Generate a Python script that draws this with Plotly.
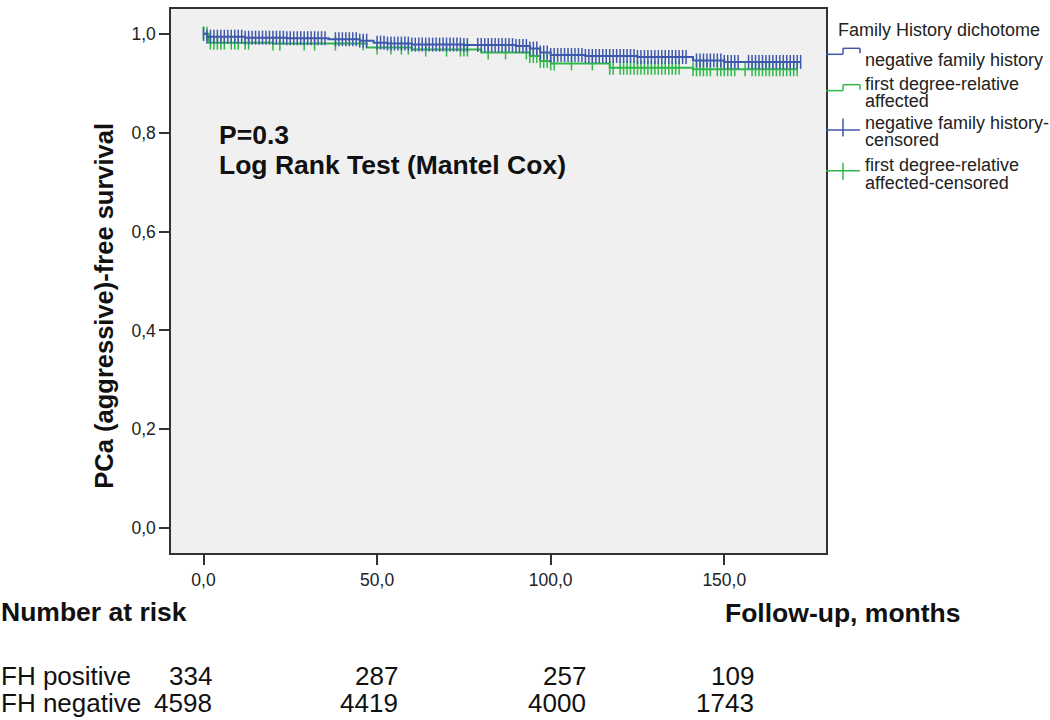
import plotly.graph_objects as go

# ---------------- data ----------------
x_tickvals = [0, 50, 100, 150]
x_ticktext = ["0,0", "50,0", "100,0", "150,0"]
y_tickvals = [0.0, 0.2, 0.4, 0.6, 0.8, 1.0]
y_ticktext = ["0,0", "0,2", "0,4", "0,6", "0,8", "1,0"]

# negative family history (blue) – Kaplan-Meier step points
neg_times = [0, 1, 12, 24, 36, 45, 49, 53, 60, 75, 90, 94, 97, 100, 110, 125, 141, 150]
neg_surv = [1.0, 0.994, 0.992, 0.991, 0.989, 0.986, 0.982, 0.980, 0.978, 0.977,
            0.975, 0.970, 0.962, 0.957, 0.955, 0.953, 0.946, 0.943]
neg_end = 172

# first degree-relative affected (green)
pos_times = [0, 1.5, 20, 47, 60, 80, 94, 97, 100, 117, 141]
pos_surv = [1.0, 0.982, 0.980, 0.972, 0.968, 0.962, 0.955, 0.945, 0.940, 0.931, 0.928]
pos_end = 171

neg_censor = [0, 1, 2, 3, 4, 5, 6, 7, 8, 9, 10, 11, 12, 13, 14, 15, 16, 17, 18, 19, 20,
              21, 22, 23, 24, 25, 26, 27, 28, 29, 30, 31, 32, 33, 34, 35, 38, 39, 40,
              41, 42, 43, 44, 45, 46, 47, 50, 51, 52, 53, 54, 55, 56, 57, 58, 59, 60,
              61, 62, 63, 64, 65, 66, 67, 68, 69, 70, 71, 72, 73, 74, 75, 76, 79, 80,
              81, 82, 83, 84, 85, 86, 87, 88, 89, 90, 91, 92, 93, 94, 95, 96, 97, 98,
              99, 100, 101, 102, 103, 104, 105, 106, 107, 108, 109, 110, 111, 112, 113,
              114, 115, 116, 117, 118, 119, 120, 121, 122, 123, 124, 125, 126, 127, 128,
              129, 130, 131, 132, 133, 134, 135, 136, 137, 138, 139, 142, 143, 144, 145,
              146, 147, 148, 149, 150, 151, 152, 153, 154, 157, 158, 159, 160, 161, 162,
              163, 164, 165, 166, 167, 168, 169, 170, 171, 172]
pos_censor = [0, 1, 2, 3, 4, 5, 6, 8, 9, 10, 12, 13, 20, 22, 29, 32, 38, 46, 50, 54, 57,
              59, 64, 70, 74, 75, 76, 82, 87, 93, 94, 95, 96, 97, 98, 99, 100, 101, 106,
              112, 117, 118, 120, 121, 122, 123, 124, 125, 126, 127, 128, 129, 130, 131,
              132, 133, 134, 135, 136, 137, 141, 142, 143, 144, 145, 146, 148, 149, 150,
              151, 152, 153, 156, 158, 159, 160, 161, 162, 163, 164, 165, 166, 167, 168,
              169, 170, 171]

risk_rows = ["FH positive", "FH negative"]
risk_pos = ["334", "287", "257", "109"]
risk_neg = ["4598", "4419", "4000", "1743"]

legend_title = "Family History dichotome"
legend_labels = [["negative family history"],
                 ["first degree-relative", "affected"],
                 ["negative family history-", "censored"],
                 ["first degree-relative", "affected-censored"]]

BLUE = "#3E58AC"
GREEN = "#2EB848"
FONT = "Arial, Liberation Sans, sans-serif"


def surv_at(times, surv, t):
    s = surv[0]
    for ti, si in zip(times, surv):
        if ti <= t:
            s = si
    return s


# ---------------- geometry (pixels) ----------------
W, H = 1050, 720
L, R, T, B = 171, 826, 7, 553.5


def px(x):
    return (x - L) / (R - L)


def py(y):
    return (B - y) / (B - T)


fig = go.Figure()

for times, surv, end, cens, col in [
    (pos_times, pos_surv, pos_end, pos_censor, GREEN),
    (neg_times, neg_surv, neg_end, neg_censor, BLUE),
]:
    fig.add_trace(go.Scatter(
        x=times + [end], y=surv + [surv[-1]], mode="lines",
        line=dict(color=col, width=2, shape="hv"), showlegend=False, hoverinfo="skip"))
    fig.add_trace(go.Scatter(
        x=cens, y=[surv_at(times, surv, t) for t in cens], mode="markers",
        marker=dict(symbol="line-ns", size=10, line=dict(color=col, width=1.5)),
        showlegend=False, hoverinfo="skip"))

annotations = []


def txt(x, y, s, size, bold=False, anchor="left", color="#111"):
    annotations.append(dict(
        x=px(x), y=py(y), xref="paper", yref="paper", text=("<b>%s</b>" % s) if bold else s,
        showarrow=False, xanchor=anchor, yanchor="middle", borderpad=0,
        font=dict(family=FONT, size=size, color=color)))


# in-plot text
txt(218, 134, "P=0.3", 26.5, bold=True)
txt(218, 164, "Log Rank Test (Mantel Cox)", 26.5, bold=True)

# y-axis title
annotations.append(dict(
    x=px(104), y=py(305), xref="paper", yref="paper",
    text="<b>PCa (aggressive)-free survival</b>", showarrow=False, textangle=-90,
    xanchor="center", yanchor="middle", font=dict(family=FONT, size=25.5, color="#111")))

# number-at-risk table
txt(0, 613, "Number at risk", 26.5, bold=True)
txt(724, 614, "Follow-up, months", 26.5, bold=True)
row_y = [677, 704]
col_x = [213, 399, 587, 755]
for name, vals, y in zip(risk_rows, [risk_pos, risk_neg], row_y):
    txt(0, y, name, 26)
    for v, x in zip(vals, col_x):
        txt(x, y, v, 26, anchor="right")

# legend
txt(837, 28, legend_title, 18, color="#222")
line_y = [[58], [82, 99.5], [122, 138.5], [163.5, 181.5]]
for lines, ys in zip(legend_labels, line_y):
    for s, y in zip(lines, ys):
        txt(864, y, s, 18, color="#222")

shapes = []


def seg(x0, y0, x1, y1, col):
    shapes.append(dict(type="line", xref="paper", yref="paper",
                       x0=px(x0), y0=py(y0), x1=px(x1), y1=py(y1),
                       line=dict(color=col, width=1.5)))


# step icons
for col, ylow, yhigh in [(BLUE, 52.5, 46.5), (GREEN, 89, 83)]:
    seg(826, ylow, 843, ylow, col)
    seg(843, ylow, 843, yhigh, col)
    seg(843, yhigh, 860, yhigh, col)
    seg(860, yhigh, 860, ylow - 1, col)
# censored icons
for col, yl, yt0, yt1 in [(BLUE, 128.5, 117, 135), (GREEN, 169.5, 161.5, 178.5)]:
    seg(826, yl, 860, yl, col)
    seg(843, yt0, 843, yt1, col)

axis_common = dict(showline=True, mirror=True, linecolor="#333", linewidth=1.5,
                   ticks="outside", ticklen=10, tickwidth=1.5, tickcolor="#333",
                   showgrid=False, zeroline=False,
                   tickfont=dict(family=FONT, size=17.5, color="#222"))

fig.update_layout(
    width=W, height=H,
    margin=dict(l=L, r=W - R, t=T, b=H - B),
    paper_bgcolor="white", plot_bgcolor="#F0F0F0",
    xaxis=dict(range=[-9.36, 179.3], tickvals=x_tickvals, ticktext=x_ticktext, **axis_common),
    yaxis=dict(range=[-0.05, 1.05], tickvals=y_tickvals, ticktext=y_ticktext, **axis_common),
    annotations=annotations, shapes=shapes, showlegend=False,
)

fig.write_html(
    "out.html",
    config={"displayModeBar": False},
    post_script="document.body.style.margin='0';document.body.style.overflow='hidden';",
)
